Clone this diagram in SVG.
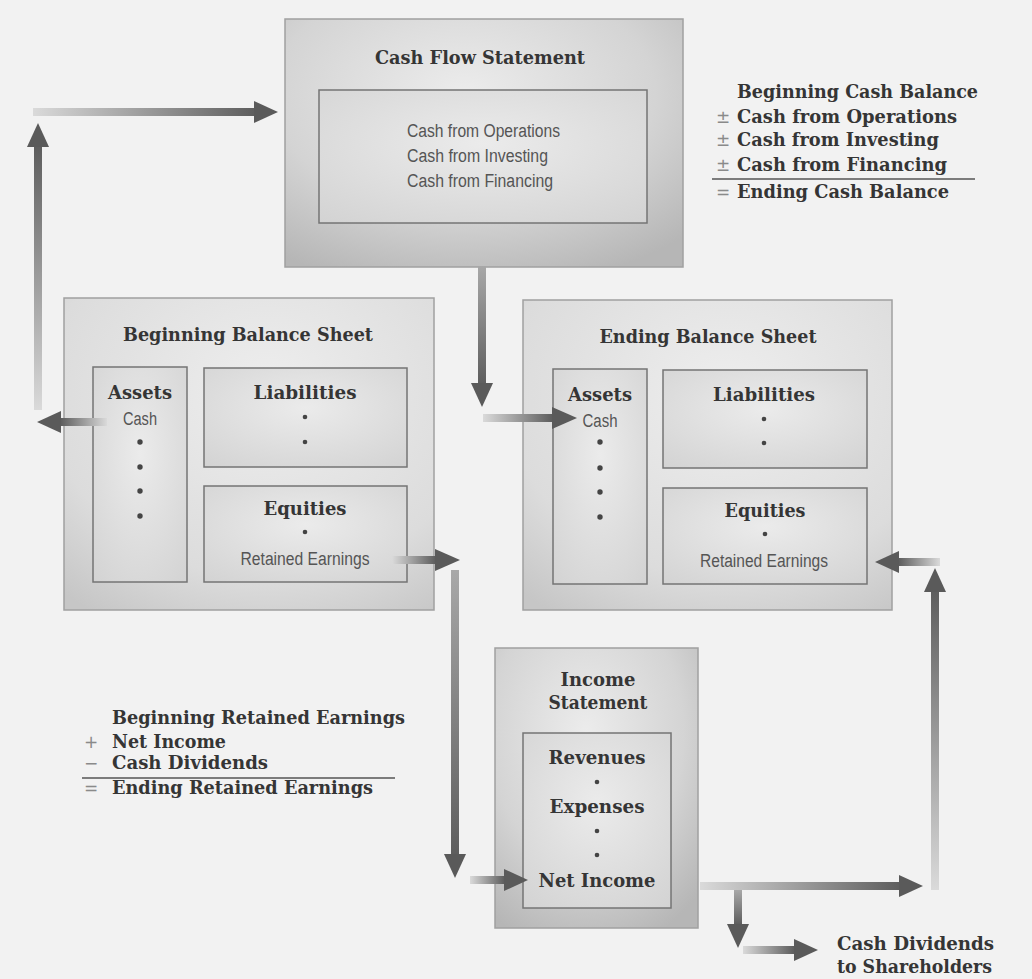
<svg xmlns="http://www.w3.org/2000/svg" width="1032" height="979" viewBox="0 0 1032 979">
<defs>
<style>
.bg{fill:#f2f2f2}
.outer{stroke:#a0a0a0;stroke-width:1.5}
.inner{stroke:#747474;stroke-width:1.5;fill:url(#gInner)}
.t{font-family:"DejaVu Serif","Liberation Serif",serif;font-weight:bold;font-size:18px;fill:#353535}
.s{font-family:"Liberation Sans","Arial",sans-serif;font-size:18px;fill:#555}
.sym{font-family:"DejaVu Sans","Liberation Sans",sans-serif;font-size:17px;fill:#8a8a8a}
.dot{fill:#444}
.head{fill:#5a5a5a}
.rule{stroke:#555;stroke-width:1.3}
</style>
<radialGradient id="gOuter" cx="0.45" cy="0.3" r="0.8">
<stop offset="0" stop-color="#ececec"/><stop offset="0.6" stop-color="#d4d4d4"/><stop offset="1" stop-color="#b6b6b6"/>
</radialGradient>
<radialGradient id="gOuter2" cx="0.55" cy="0.3" r="0.85">
<stop offset="0" stop-color="#eeeeee"/><stop offset="0.7" stop-color="#dcdcdc"/><stop offset="1" stop-color="#c6c6c6"/>
</radialGradient>
<radialGradient id="gInner" cx="0.5" cy="0.4" r="0.8">
<stop offset="0" stop-color="#ebebeb"/><stop offset="1" stop-color="#d2d2d2"/>
</radialGradient>
<linearGradient id="gR" x1="0" y1="0" x2="1" y2="0"><stop offset="0" stop-color="#dadada"/><stop offset="1" stop-color="#5e5e5e"/></linearGradient>
<linearGradient id="gL" x1="1" y1="0" x2="0" y2="0"><stop offset="0" stop-color="#dadada"/><stop offset="1" stop-color="#5e5e5e"/></linearGradient>
<linearGradient id="gD" x1="0" y1="0" x2="0" y2="1"><stop offset="0" stop-color="#a8a8a8"/><stop offset="1" stop-color="#5e5e5e"/></linearGradient>
<linearGradient id="gU" x1="0" y1="1" x2="0" y2="0"><stop offset="0" stop-color="#dadada"/><stop offset="1" stop-color="#5e5e5e"/></linearGradient>
</defs>
<rect class="bg" x="0" y="0" width="1032" height="979"/>

<g id="cash-flow-statement">
<rect class="outer" x="285" y="19" width="398" height="248" fill="url(#gOuter)"/>
<text class="t" x="480" y="64" text-anchor="middle" textLength="210" lengthAdjust="spacingAndGlyphs">Cash Flow Statement</text>
<rect class="inner" x="319" y="90" width="328" height="133"/>
<text class="s" x="407" y="137" textLength="153" lengthAdjust="spacingAndGlyphs">Cash from Operations</text>
<text class="s" x="407" y="162" textLength="141" lengthAdjust="spacingAndGlyphs">Cash from Investing</text>
<text class="s" x="407" y="187" textLength="146" lengthAdjust="spacingAndGlyphs">Cash from Financing</text>
</g>

<g id="cash-formula">
<text class="t" x="737" y="98" textLength="241" lengthAdjust="spacingAndGlyphs">Beginning Cash Balance</text>
<text class="sym" x="723" y="123" text-anchor="middle">±</text>
<text class="t" x="737" y="123" textLength="220" lengthAdjust="spacingAndGlyphs">Cash from Operations</text>
<text class="sym" x="723" y="146" text-anchor="middle">±</text>
<text class="t" x="737" y="146" textLength="202" lengthAdjust="spacingAndGlyphs">Cash from Investing</text>
<text class="sym" x="723" y="171" text-anchor="middle">±</text>
<text class="t" x="737" y="171" textLength="210" lengthAdjust="spacingAndGlyphs">Cash from Financing</text>
<line class="rule" x1="712" y1="179" x2="975" y2="179"/>
<text class="sym" x="723" y="198" text-anchor="middle">=</text>
<text class="t" x="737" y="198" textLength="212" lengthAdjust="spacingAndGlyphs">Ending Cash Balance</text>
</g>

<g id="beginning-balance-sheet">
<rect class="outer" x="64" y="298" width="370" height="312" fill="url(#gOuter2)"/>
<text class="t" x="248" y="341" text-anchor="middle" textLength="250" lengthAdjust="spacingAndGlyphs">Beginning Balance Sheet</text>
<rect class="inner" x="93" y="367" width="94" height="215"/>
<text class="t" x="140" y="399" text-anchor="middle" textLength="64" lengthAdjust="spacingAndGlyphs">Assets</text>
<text class="s" x="140" y="425" text-anchor="middle" textLength="34" lengthAdjust="spacingAndGlyphs">Cash</text>
<circle class="dot" cx="140" cy="442" r="2.7"/><circle class="dot" cx="140" cy="467" r="2.7"/><circle class="dot" cx="140" cy="491" r="2.7"/><circle class="dot" cx="140" cy="516" r="2.7"/>
<rect class="inner" x="204" y="368" width="203" height="99"/>
<text class="t" x="305" y="399" text-anchor="middle" textLength="103" lengthAdjust="spacingAndGlyphs">Liabilities</text>
<circle class="dot" cx="305" cy="417" r="2.3"/><circle class="dot" cx="305" cy="442" r="2.3"/>
<rect class="inner" x="204" y="486" width="203" height="96"/>
<text class="t" x="305" y="515" text-anchor="middle" textLength="83" lengthAdjust="spacingAndGlyphs">Equities</text>
<circle class="dot" cx="305" cy="532" r="2.3"/>
<text class="s" x="305" y="565" text-anchor="middle" textLength="129" lengthAdjust="spacingAndGlyphs">Retained Earnings</text>
</g>

<g id="ending-balance-sheet">
<rect class="outer" x="523" y="300" width="369" height="310" fill="url(#gOuter2)"/>
<text class="t" x="708" y="343" text-anchor="middle" textLength="217" lengthAdjust="spacingAndGlyphs">Ending Balance Sheet</text>
<rect class="inner" x="553" y="369" width="94" height="215"/>
<text class="t" x="600" y="401" text-anchor="middle" textLength="64" lengthAdjust="spacingAndGlyphs">Assets</text>
<text class="s" x="600" y="427" text-anchor="middle" textLength="35" lengthAdjust="spacingAndGlyphs">Cash</text>
<circle class="dot" cx="600" cy="442" r="2.7"/><circle class="dot" cx="600" cy="468" r="2.7"/><circle class="dot" cx="600" cy="492" r="2.7"/><circle class="dot" cx="600" cy="517" r="2.7"/>
<rect class="inner" x="663" y="370" width="204" height="98"/>
<text class="t" x="764" y="401" text-anchor="middle" textLength="102" lengthAdjust="spacingAndGlyphs">Liabilities</text>
<circle class="dot" cx="764" cy="419" r="2.3"/><circle class="dot" cx="764" cy="443" r="2.3"/>
<rect class="inner" x="663" y="488" width="204" height="96"/>
<text class="t" x="765" y="517" text-anchor="middle" textLength="81" lengthAdjust="spacingAndGlyphs">Equities</text>
<circle class="dot" cx="765" cy="534" r="2.3"/>
<text class="s" x="764" y="567" text-anchor="middle" textLength="128" lengthAdjust="spacingAndGlyphs">Retained Earnings</text>
</g>

<g id="income-statement">
<rect class="outer" x="495" y="648" width="203" height="280" fill="url(#gOuter)"/>
<text class="t" x="598" y="686" text-anchor="middle" textLength="75" lengthAdjust="spacingAndGlyphs">Income</text>
<text class="t" x="598" y="709" text-anchor="middle" textLength="99" lengthAdjust="spacingAndGlyphs">Statement</text>
<rect class="inner" x="523" y="733" width="148" height="175"/>
<text class="t" x="597" y="764" text-anchor="middle" textLength="97" lengthAdjust="spacingAndGlyphs">Revenues</text>
<circle class="dot" cx="597" cy="782" r="2.3"/>
<text class="t" x="597" y="813" text-anchor="middle" textLength="95" lengthAdjust="spacingAndGlyphs">Expenses</text>
<circle class="dot" cx="597" cy="831" r="2.3"/><circle class="dot" cx="597" cy="855" r="2.3"/>
<text class="t" x="597" y="887" text-anchor="middle" textLength="117" lengthAdjust="spacingAndGlyphs">Net Income</text>
</g>

<g id="retained-earnings-formula">
<text class="t" x="112" y="724" textLength="293" lengthAdjust="spacingAndGlyphs">Beginning Retained Earnings</text>
<text class="sym" x="91" y="748" text-anchor="middle">+</text>
<text class="t" x="112" y="748" textLength="114" lengthAdjust="spacingAndGlyphs">Net Income</text>
<text class="sym" x="91" y="769" text-anchor="middle">−</text>
<text class="t" x="112" y="769" textLength="156" lengthAdjust="spacingAndGlyphs">Cash Dividends</text>
<line class="rule" x1="82" y1="778" x2="395" y2="778"/>
<text class="sym" x="91" y="794" text-anchor="middle">=</text>
<text class="t" x="112" y="794" textLength="261" lengthAdjust="spacingAndGlyphs">Ending Retained Earnings</text>
</g>

<g id="cash-dividends">
<text class="t" x="837" y="950" textLength="157" lengthAdjust="spacingAndGlyphs">Cash Dividends</text>
<text class="t" x="837" y="973" textLength="155" lengthAdjust="spacingAndGlyphs">to Shareholders</text>
</g>

<g id="connectors">
<rect x="61" y="418" width="46" height="8" fill="url(#gL)"/><polygon class="head" points="37,422 61,411 61,433"/>
<rect x="34" y="147" width="8" height="263" fill="url(#gU)"/><polygon class="head" points="38,123 27,147 49,147"/>
<rect x="33" y="108" width="222" height="8" fill="url(#gR)"/><polygon class="head" points="278,112 254,101 254,123"/>
<rect x="478" y="266" width="8" height="118" fill="url(#gD)"/><polygon class="head" points="482,407 471,383 493,383"/>
<rect x="483" y="414" width="69" height="8" fill="url(#gR)"/><polygon class="head" points="577,418 552,407 552,429"/>
<rect x="392" y="556" width="43" height="8" fill="url(#gR)"/><polygon class="head" points="460,560 435,549 435,571"/>
<rect x="451" y="570" width="8" height="284" fill="url(#gD)"/><polygon class="head" points="455,878 444,854 466,854"/>
<rect x="470" y="876" width="34" height="8" fill="url(#gR)"/><polygon class="head" points="528,880 504,869 504,891"/>
<rect x="700" y="882" width="199" height="8" fill="url(#gR)"/><polygon class="head" points="923,886 899,875 899,897"/>
<rect x="734" y="890" width="8" height="34" fill="url(#gD)"/><polygon class="head" points="738,948 727,924 749,924"/>
<rect x="743" y="946" width="51" height="8" fill="url(#gR)"/><polygon class="head" points="818,950 794,939 794,961"/>
<rect x="931" y="592" width="8" height="298" fill="url(#gU)"/><polygon class="head" points="935,568 924,592 946,592"/>
<rect x="899" y="558" width="41" height="8" fill="url(#gL)"/><polygon class="head" points="875,562 899,551 899,573"/>
</g>
</svg>
